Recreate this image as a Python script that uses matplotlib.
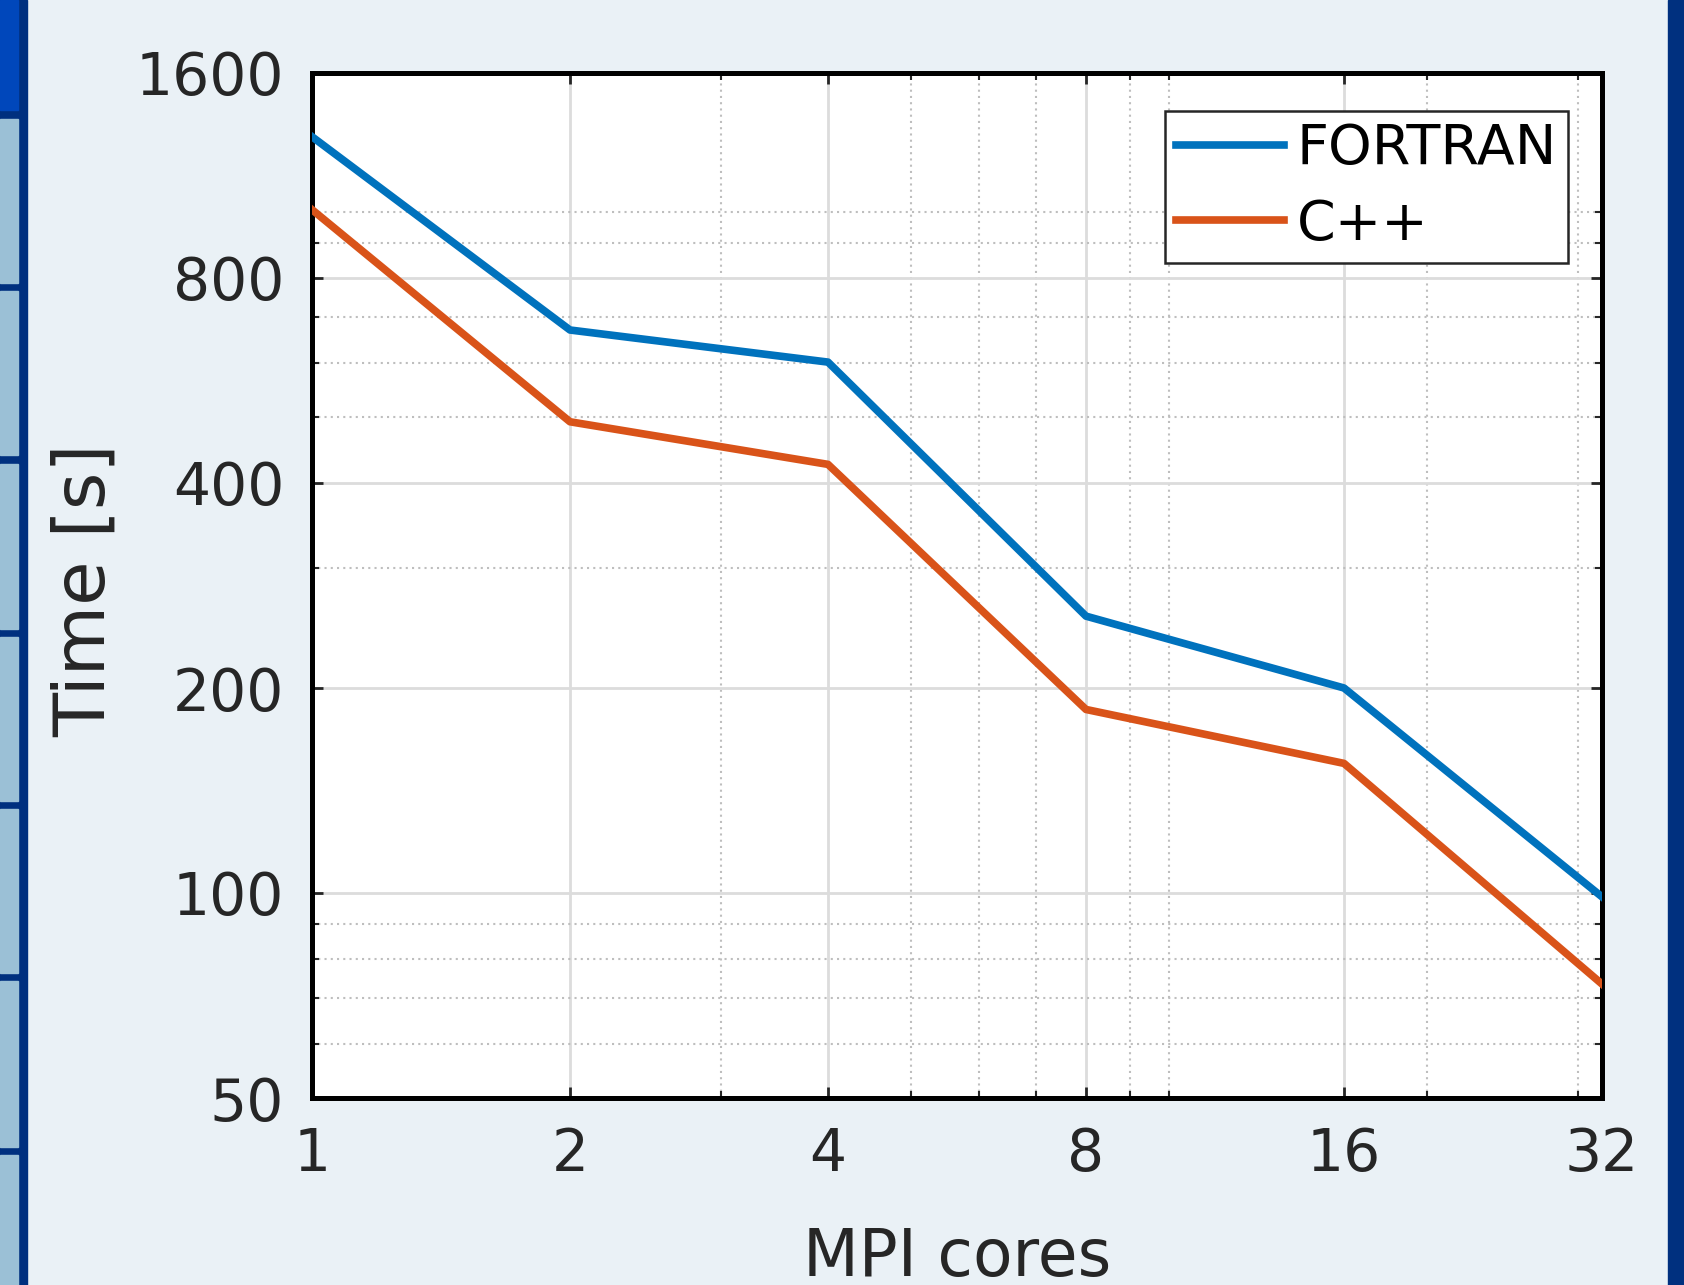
import matplotlib
matplotlib.use("Agg")
import matplotlib.pyplot as plt
from matplotlib.patches import Rectangle
from matplotlib.ticker import FixedLocator, NullFormatter

# data
cores = [1, 2, 4, 8, 16, 32]
fortran_time = [1290, 671, 602, 255, 200, 98.7]
cpp_time = [1008, 492, 426, 186, 155, 73.5]

x_ticks = [1, 2, 4, 8, 16, 32]
x_minor = [3, 5, 6, 7, 9, 10, 20, 30]
y_ticks = [50, 100, 200, 400, 800, 1600]
y_minor = [60, 70, 80, 90, 300, 500, 600, 700, 900, 1000]

W, H = 1684, 1285
fig = plt.figure(figsize=(W / 100, H / 100), dpi=100)
fig.patch.set_facecolor('#EAF1F6')

# slide decoration on the left edge
fig.patches.append(Rectangle((0, 0), 27 / W, 1, transform=fig.transFigure,
                             color='#00307F', zorder=0))
fig.patches.append(Rectangle((0, 1 - 110 / H), 18 / W, 110 / H,
                             transform=fig.transFigure, color='#0047BB', zorder=1))
band_tops = [119, 291, 464, 637, 809, 981, 1155]
band_bottoms = [283, 455, 629, 801, 973, 1147, 1300]
for t, b in zip(band_tops, band_bottoms):
    fig.patches.append(Rectangle((0, 1 - b / H), 18 / W, (b - t) / H,
                                 transform=fig.transFigure, color='#9BC0D6', zorder=1))
# dark strip on right edge
fig.patches.append(Rectangle((1668 / W, 0), 16 / W, 1, transform=fig.transFigure,
                             color='#00307F', zorder=0))

ax = fig.add_axes([312 / W, 1 - 1098 / H, 1290 / W, 1025 / H])
ax.set_facecolor('white')

ax.plot(cores, fortran_time, color='#0072BD', linewidth=5.5, label='FORTRAN', zorder=3)
ax.plot(cores, cpp_time, color='#D95319', linewidth=5.5, label='C++', zorder=3)

ax.set_xscale('log', base=2)
ax.set_yscale('log')
ax.set_xlim(1, 32)
ax.set_ylim(50, 1600)
ax.set_xticks(x_ticks)
ax.set_xticklabels([str(v) for v in x_ticks])
ax.set_yticks(y_ticks)
ax.set_yticklabels([str(v) for v in y_ticks])
ax.xaxis.set_minor_locator(FixedLocator(x_minor))
ax.yaxis.set_minor_locator(FixedLocator(y_minor))
ax.xaxis.set_minor_formatter(NullFormatter())
ax.yaxis.set_minor_formatter(NullFormatter())

ax.grid(True, which='major', color='#DCDCDC', linewidth=2, linestyle='-')
ax.grid(True, which='minor', color='#BEBEBE', linewidth=1.5, linestyle=(0, (1, 2)))
ax.set_axisbelow(True)

ax.tick_params(which='both', direction='in', top=True, right=True, colors='#262626')
ax.tick_params(which='major', length=8, width=2, labelsize=42, labelcolor='#262626')
ax.tick_params(which='minor', length=5, width=1.5)
ax.tick_params(axis='x', pad=20)
ax.tick_params(axis='y', pad=20)
for s in ax.spines.values():
    s.set_linewidth(3.6)
    s.set_color('black')

fig.text(957 / W, 9 / H, 'MPI cores', fontsize=46.5, color='#262626',
         ha='center', va='baseline')
fig.text(85 / W, 1 - 590 / H, 'Time [s]', fontsize=52, color='#262626',
         ha='center', va='center', rotation=90)

leg = ax.legend(loc='upper right', bbox_to_anchor=(0.9736, 0.9629), borderaxespad=0,
                fontsize=40, handlelength=1.95, handletextpad=0.22, labelspacing=0.39,
                borderpad=0.2, fancybox=False, framealpha=1)
leg.get_frame().set_edgecolor('#262626')
leg.get_frame().set_linewidth(1.8)

fig.savefig('out.png', dpi=100, facecolor=fig.get_facecolor())
